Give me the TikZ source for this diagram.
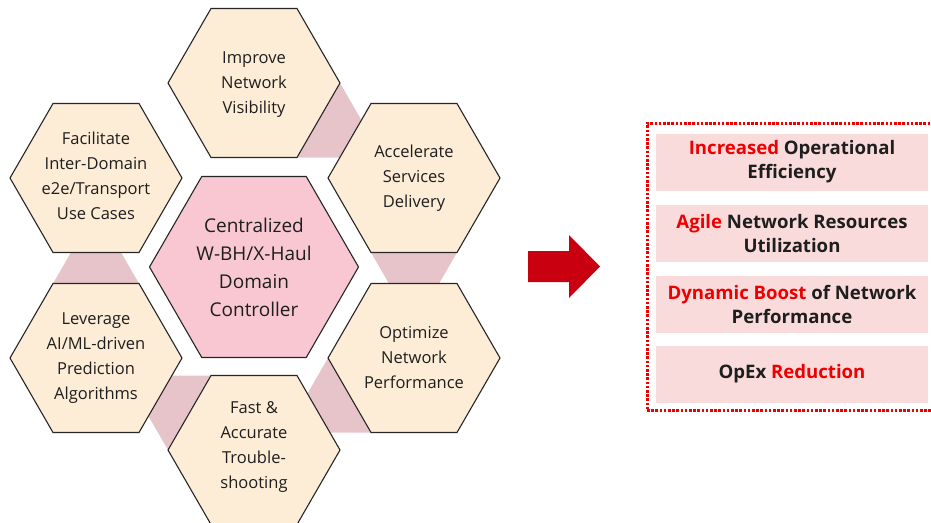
\documentclass[tikz,border=0pt]{standalone}
\usepackage{fontspec}
\setmainfont{Open Sans}
\usetikzlibrary{shapes.geometric,calc,backgrounds}

\definecolor{hexcream}{RGB}{253,237,215}
\definecolor{hexpink}{RGB}{248,199,209}
\definecolor{linkpink}{RGB}{231,196,201}
\definecolor{hexline}{RGB}{38,38,38}
\definecolor{boxpink}{RGB}{250,219,219}
\definecolor{hired}{RGB}{238,0,0}
\definecolor{arrowred}{RGB}{200,0,16}
\definecolor{inkdark}{RGB}{30,30,30}

\begin{document}
\begin{tikzpicture}[x=1pt,y=-1pt,
  hexbase/.style={regular polygon, regular polygon sides=6, inner sep=0pt,
                  draw=hexline, line width=1.1pt},
  outerhex/.style={hexbase, minimum size=172pt, fill=hexcream},
  centerhex/.style={hexbase, minimum size=209pt, fill=hexpink},
  hextext/.style={align=center, text=inkdark, font=\fontsize{16.5}{25}\selectfont},
  centertext/.style={align=center, text=inkdark, font=\fontsize{19}{28}\selectfont},
  link/.style={fill=linkpink},
  goalbox/.style={fill=boxpink, minimum width=272pt, minimum height=57pt, inner sep=0pt,
                  align=center, text=inkdark, font=\bfseries\fontsize{18.6}{24}\selectfont},
  panel/.style={draw=hired, line width=3pt, dash pattern=on 2.6pt off 1.6pt,
                minimum width=290pt, minimum height=287pt, inner sep=0pt},
  bigarrow/.style={fill=arrowred}
]
\useasboundingbox (0,0) rectangle (931,522);

% hexagon cluster
\node[centerhex] (ctl) at (254,267) {};
\node[outerhex] (imp) at (254,83) {};
\node[outerhex] (acc) at (414,178) {};
\node[outerhex] (opt) at (414,358) {};
\node[outerhex] (fst) at (254,450) {};
\node[outerhex] (lev) at (96,358) {};
\node[outerhex] (fac) at (96,178) {};

\node[centertext] (ctl-t) at (ctl) {Centralized\\W-BH/X-Haul\\Domain\\Controller};
\node[hextext] (imp-t) at ($(imp)+(0,2)$) {Improve\\Network\\Visibility};
\node[hextext] (acc-t) at (acc) {Accelerate\\Services\\Delivery};
\node[hextext] (opt-t) at (opt) {Optimize\\Network\\Performance};
\node[hextext] (fst-t) at ($(fst)-(0,3)$) {Fast \&\\Accurate\\Trouble-\\shooting};
\node[hextext] (lev-t) at (lev) {Leverage\\AI/ML-driven\\Prediction\\Algorithms};
\node[hextext] (fac-t) at ($(fac)-(0,2)$) {Facilitate\\Inter-Domain\\e2e/Transport\\Use Cases};

% triangular links between neighbouring hexagons
\begin{scope}[on background layer]
  \fill[link] ($(imp)+(86,0)$) -- ($(imp)+(43,74.5)$) -- ($(imp)+(129,74.5)$) -- cycle;
  \fill[link] ($(acc)+(-43,74.5)$) -- ($(acc)+(43,74.5)$) -- ($(acc)+(0,149)$) -- cycle;
  \fill[link] ($(opt)+(-86,0)$) -- ($(opt)+(-43,74.5)$) -- ($(opt)+(-129,74.5)$) -- cycle;
  \fill[link] ($(fst)+(-86,0)$) -- ($(fst)+(-43,-74.5)$) -- ($(fst)+(-129,-74.5)$) -- cycle;
  \fill[link] ($(lev)+(-43,-74.5)$) -- ($(lev)+(43,-74.5)$) -- ($(lev)+(0,-149)$) -- cycle;
\end{scope}

% arrow towards the outcomes
\fill[bigarrow] (528,251) -- (569,251) -- (569,235) -- (600,266.5)
  -- (569,298) -- (569,282) -- (528,282) -- cycle;

% outcomes panel
\node[panel] (pnl) at (792,266.5) {};
\node[goalbox] (g1) at (792,162) {\textcolor{hired}{Increased} Operational\\Efficiency};
\node[goalbox] (g2) at (792,233.5) {\textcolor{hired}{Agile} Network Resources\\Utilization};
\node[goalbox] (g3) at (792,304) {\textcolor{hired}{Dynamic Boost} of Network\\Performance};
\node[goalbox] (g4) at (792,374) {OpEx \textcolor{hired}{Reduction}};
\end{tikzpicture}
\end{document}
